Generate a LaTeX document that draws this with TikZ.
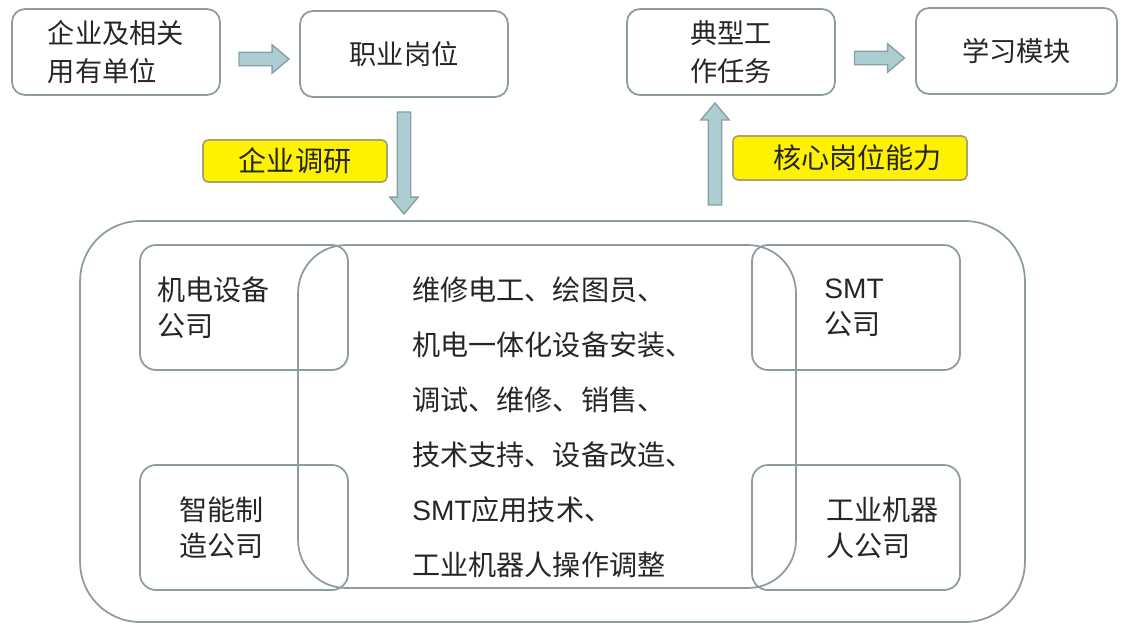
\documentclass[tikz,border=0pt]{standalone}
\usepackage{fontspec}
\setmainfont{Noto Sans CJK SC}
\newfontfamily\latinfont{Liberation Sans}
\usetikzlibrary{calc}
\usetikzlibrary{positioning}
\usetikzlibrary{shapes.arrows}
\definecolor{boxgray}{RGB}{140,156,160}
\definecolor{arrowfill}{RGB}{172,206,210}
\definecolor{arrowdraw}{RGB}{135,160,165}
\definecolor{labeldraw}{RGB}{170,165,110}
\tikzset{
	stepstyle/.style={rectangle,rounded corners=0.26cm,draw=boxgray,line width=1pt,align=left,minimum width=4.16cm,minimum height=1.72cm,text=black!85,font=\fontsize{15.5}{21.5}\selectfont},
	firmstyle/.style={rectangle,rounded corners=0.32cm,draw=boxgray,line width=1pt,minimum width=4.16cm,minimum height=2.5cm},
	firmtextstyle/.style={align=left,inner sep=0pt,text=black!85,font=\fontsize{16}{20.5}\selectfont},
	labelstyle/.style={rectangle,rounded corners=0.1cm,draw=labeldraw,fill=yellow,line width=1pt,text=black!85,font=\fontsize{16}{20}\selectfont},
	arrowstyle/.style={single arrow,draw=arrowdraw,fill=arrowfill,line width=0.8pt,inner sep=0.12cm,single arrow head extend=0.15cm,single arrow tip angle=80,minimum height=1cm}
}

\begin{document}
\begin{tikzpicture}[x=0.02cm,y=-0.02cm]
	\useasboundingbox (0,0) rectangle (1121,626);
	% top row
	\node[stepstyle] (firms) at (116,52) {企业及相关\\用有单位};
	\node[stepstyle] (jobs) at (404,54) {职业岗位};
	\node[stepstyle] (tasks) at (731,52) {典型工\\作任务};
	\node[stepstyle,minimum width=4.02cm] (modules) at (1016.5,51) {学习模块};
	% enterprise cluster
	\node[rectangle,rounded corners=1.2cm,draw=boxgray,line width=1pt,minimum width=18.9cm,minimum height=8.02cm] (cluster) at (552.5,421.5) {};
	\node[rectangle,rounded corners=0.96cm,draw=boxgray,line width=1pt,minimum width=9.96cm,minimum height=6.86cm] (duties) at (547,416.5) {};
	\node[firmstyle] (mech) at (244,307.5) {};
	\node[firmstyle] (smart) at (244,527.5) {};
	\node[firmstyle] (smt) at (856,307.5) {};
	\node[firmstyle] (robot) at (856,527.5) {};
	\node[firmtextstyle,right=0.36cm of mech.west] (mechtext) {机电设备\\公司};
	\node[firmtextstyle,right=0.8cm of smart.west] (smarttext) {智能制\\造公司};
	\node[firmtextstyle,right=1.46cm of smt.west] (smttext) {{\latinfont SMT}\\公司};
	\node[firmtextstyle,right=1.5cm of robot.west] (robottext) {工业机器\\人公司};
	\node[firmtextstyle,anchor=west,font=\fontsize{16}{31.3}\selectfont] (dutytext) at (412,427.5) {维修电工、绘图员、\\机电一体化设备安装、\\调试、维修、销售、\\技术支持、设备改造、\\{\latinfont SMT}应用技术、\\工业机器人操作调整};
	% arrows
	\node[arrowstyle,yshift=-0.12cm] (a1) at ($(firms.east)!0.5!(jobs.west)$) {};
	\node[arrowstyle,yshift=-0.13cm] (a2) at ($(tasks.east)!0.5!(modules.west)$) {};
	\node[arrowstyle,rotate=-90,minimum height=2.04cm] (down) at ($(jobs.south)!0.5!(jobs.south |- cluster.north)$) {};
	\node[arrowstyle,rotate=90,minimum height=2.04cm] (up) at ($(tasks.south)!0.5!(tasks.south |- cluster.north)+(-16,0)$) {};
	% labels
	\node[labelstyle,minimum width=3.68cm,minimum height=0.84cm] (survey) at (295,161) {企业调研};
	\node[labelstyle,minimum width=4.68cm,minimum height=0.88cm] (core) at (850,158) {\hspace{0.3cm}核心岗位能力};
\end{tikzpicture}
\end{document}
